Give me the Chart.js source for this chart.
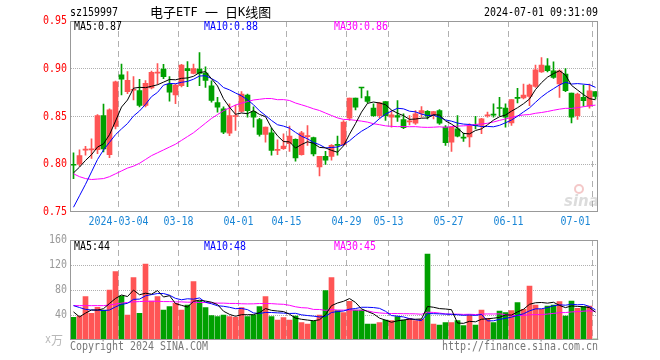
<!DOCTYPE html>
<html><head><meta charset="utf-8">
<script src="https://cdn.jsdelivr.net/npm/chart.js@4"></script>
<style>
html,body{margin:0;padding:0;background:#fff;}
#wrap{position:relative;width:660px;height:360px;overflow:hidden;}
canvas{position:absolute;left:0;}
</style></head><body>
<div id="wrap">
<canvas id="k" width="660" height="232" style="top:0"></canvas>
<canvas id="v" width="660" height="128" style="top:232px"></canvas>
</div>
<script>
// ---------- data ----------
const code = 'sz159997';
const title = '电子ETF 一 日K线图';
const stamp = '2024-07-01 09:31:09';
const dates = ['02-21','02-22','02-23','02-26','02-27','02-28','02-29','03-01',
'03-04','03-05','03-06','03-07','03-08','03-11','03-12','03-13','03-14','03-15','03-18','03-19','03-20','03-21','03-22','03-25','03-26','03-27','03-28','03-29',
'04-01','04-02','04-03','04-08','04-09','04-10','04-11','04-12','04-15','04-16','04-17','04-18','04-19','04-22','04-23','04-24','04-25','04-26','04-29','04-30',
'05-06','05-07','05-08','05-09','05-10','05-13','05-14','05-15','05-16','05-17','05-20','05-21','05-22','05-23','05-24','05-27','05-28','05-29','05-30','05-31',
'06-03','06-04','06-05','06-06','06-07','06-11','06-12','06-13','06-14','06-17','06-18','06-19','06-20','06-21','06-24','06-25','06-26','06-27','06-28',
'07-01'];
const xTickLabels = ['2024-03-04','03-18','04-01','04-15','04-29','05-13','05-27','06-11','07-01'];
const priceTicks = [0.75, 0.80, 0.85, 0.90, 0.95];
const volumeTicks = [0, 40, 80, 120, 160];

const opens = [0.800,0.800,0.8148,0.8150,0.8153,0.851,0.810,0.8396,0.8937,0.876,
0.8775,0.8771,0.8615,0.8799,0.8955,0.8997,0.884,0.8726,0.8823,0.9003,
0.8951,0.8996,0.8955,0.8822,0.8645,0.858,0.8325,0.8500,0.8552,0.8725,
0.8552,0.8468,0.8312,0.833,0.8145,0.8163,0.8215,0.826,0.810,0.8289,
0.828,0.7972,0.8083,0.8083,0.8205,0.8205,0.8482,0.8694,0.8802,0.8708,
0.8587,0.851,0.8656,0.8493,0.851,0.8468,0.8444,0.843,0.8534,0.8555,
0.852,0.8562,0.8389,0.8232,0.8371,0.8278,0.8285,0.8406,0.8406,0.8506,
0.8518,0.8587,0.8587,0.8434,0.8694,0.8694,0.8711,0.8816,0.8968,0.9031,
0.8979,0.884,0.8944,0.8746,0.851,0.8701,0.8607,0.876];
const highs = [0.812,0.815,0.8187,0.8267,0.852,0.863,0.858,0.887,0.9048,0.897,
0.8917,0.889,0.8875,0.8975,0.9055,0.9045,0.8917,0.884,0.9045,0.9075,
0.9048,0.917,0.902,0.8874,0.870,0.860,0.8632,0.862,0.876,0.8735,
0.860,0.8482,0.8389,0.8378,0.8257,0.8319,0.840,0.8265,0.8344,0.8406,
0.8285,0.8083,0.8135,0.8205,0.8295,0.8458,0.8694,0.8694,0.8805,0.877,
0.8632,0.8649,0.8656,0.8562,0.8666,0.8527,0.851,0.8562,0.8604,0.8562,
0.8555,0.8573,0.8406,0.8389,0.851,0.8326,0.8423,0.8503,0.8482,0.8545,
0.8632,0.870,0.8632,0.8677,0.8795,0.884,0.884,0.9038,0.9118,0.9107,
0.9072,0.8989,0.9003,0.8746,0.8746,0.883,0.884,0.876];
const lows = [0.785,0.798,0.8094,0.806,0.811,0.813,0.807,0.837,0.8725,0.874,
0.8674,0.860,0.860,0.879,0.8835,0.8895,0.866,0.8635,0.881,0.8812,
0.8945,0.8823,0.8805,0.8649,0.8545,0.832,0.830,0.8354,0.8545,0.8493,
0.8389,0.8295,0.8232,0.8094,0.810,0.8156,0.8135,0.8031,0.8094,0.8198,
0.8087,0.7878,0.7997,0.8042,0.8094,0.8198,0.8458,0.8569,0.8694,0.8642,
0.850,0.8482,0.8458,0.8389,0.8448,0.8372,0.8413,0.8417,0.8493,0.8475,
0.8475,0.8417,0.8198,0.8135,0.8285,0.824,0.8181,0.837,0.8319,0.8493,
0.8493,0.851,0.8389,0.8406,0.8642,0.8684,0.8614,0.8805,0.8961,0.8968,
0.8899,0.8701,0.876,0.8434,0.8469,0.8607,0.8586,0.8684];
const closes = [0.799,0.809,0.8153,0.8156,0.851,0.816,0.857,0.8864,0.889,0.888,
0.8778,0.8615,0.8847,0.8962,0.8958,0.8917,0.8754,0.8830,0.9038,0.8979,
0.9003,0.8951,0.8878,0.8668,0.8597,0.8335,0.851,0.8505,0.8736,0.8562,
0.8493,0.8312,0.8389,0.8146,0.8150,0.8191,0.8295,0.8066,0.833,0.8295,
0.8108,0.8083,0.8042,0.8198,0.8198,0.8441,0.8694,0.8597,0.8798,0.8659,
0.851,0.8642,0.851,0.8517,0.8493,0.8382,0.8448,0.8527,0.8562,0.8503,
0.8552,0.843,0.8226,0.8389,0.8295,0.8274,0.8406,0.8403,0.8475,0.851,
0.8515,0.8584,0.8493,0.8677,0.869,0.8725,0.8829,0.8989,0.9038,0.8979,
0.8909,0.8979,0.877,0.8493,0.8736,0.8666,0.877,0.8711];
// volume, 万
const volumes = [36.3,38.4,69.3,42.7,52.3,48,80,109.3,70.4,40,
99.7,42.7,121.6,62.4,69.3,48,53.3,58.7,48,56,
93.3,62.4,51.7,38.9,37.3,40,37.3,36.3,51.7,37.3,
40,53.3,69.3,37.3,32,35.7,32,38.4,27.7,25.6,
30.4,40,78.9,99.7,47,44,62,48,48,25.6,
25.6,27.7,32,31,37.3,32,34.7,31,33,137.6,
25.6,24,27.7,27.7,31,22.9,40,24,48,34.7,
27.7,46.4,43.7,46.9,59.7,49,86.4,56,49,54.4,
56,61.3,38.4,62.4,50.7,53.3,54.4,1.6];

// moving-average values for days whose window starts before the shown range
const ma5Lead  = [0.791,0.797,0.804,0.810];
const ma10Lead = [0.755,0.767,0.779,0.792,0.805,0.815,0.823,0.831,0.837];
const ma30Lead = [0.790,0.787,0.785,0.784,0.7845,0.785,0.787,0.790,0.793,0.796,
0.798,0.801,0.805,0.809,0.812,0.815,0.818,0.821,0.825,0.829,
0.833,0.838,0.843,0.848,0.852,0.856,0.859,0.862,0.864];
const volMa5Lead  = [45,37,43,48];
const volMa10Lead = [55,52,49,48,48,47,48,53,57];
const volMa30Lead = [55,55,55,55,55,55,56,57.5,59,60,61,61.5,62,62,62,61.5,61.5,61,61,60.5,60.5,60,60,59.5,59,59,58.5,58.5,58];

// ---------- derived ----------
function movingAvg(src, n, lead){
  return src.map((_, i) => i < lead.length ? lead[i] : src.slice(i - n + 1, i + 1).reduce((a, b) => a + b, 0) / n);
}
const ma5 = movingAvg(closes, 5, ma5Lead);
const ma10 = movingAvg(closes, 10, ma10Lead);
const ma30 = movingAvg(closes, 30, ma30Lead);
const vma5 = movingAvg(volumes, 5, volMa5Lead);
const vma10 = movingAvg(volumes, 10, volMa10Lead);
const vma30 = movingAvg(volumes, 30, volMa30Lead);

const UP = '#ff5555', DOWN = '#00a000';
const colors = closes.map((c, i) => c >= opens[i] ? UP : DOWN);
const wicks = lows.map((l, i) => [l, highs[i]]);
const bodies = opens.map((o, i) => [o, closes[i]]);
const last = a => a[a.length - 1];
const tickIdx = new Set(xTickLabels.map(l => dates.indexOf(l.slice(-5))));
const CLEAR = 'rgba(0,0,0,0)';
const GRID = '#b0b0b0';

// ---------- text helper ----------
function drawText(ctx, s, x, y, color, align, opt){
  opt = opt || {};
  const asciiFont = '12px "DejaVu Sans Mono"';
  const cjkFont = (opt.cjk || 12) + 'px "Noto Sans CJK SC"';
  ctx.save();
  ctx.font = asciiFont;
  const sx = opt.sx !== undefined ? opt.sx : 6 / ctx.measureText('0').width;
  const runs = [];
  let cur = '', cc = null;
  for (const ch of s){
    const c = ch.charCodeAt(0) > 255;
    if (cc === null || c === cc){ cur += ch; cc = c; }
    else { runs.push([cur, cc]); cur = ch; cc = c; }
  }
  if (cur) runs.push([cur, cc]);
  let total = 0;
  const ws = runs.map(([t, c]) => { ctx.font = c ? cjkFont : asciiFont; const w = ctx.measureText(t).width * (c ? 1 : sx); total += w; return w; });
  let cx = align === 'right' ? x - total : align === 'center' ? x - total / 2 : x;
  ctx.fillStyle = color; ctx.textBaseline = 'middle'; ctx.textAlign = 'left';
  runs.forEach(([t, c], k) => {
    ctx.font = c ? cjkFont : asciiFont;
    ctx.save(); ctx.translate(cx, y); if (!c) ctx.scale(sx, 1); ctx.fillText(t, 0, 0); ctx.restore();
    cx += ws[k];
  });
  ctx.restore();
  return total;
}
function frame(ctx, a){
  ctx.save(); ctx.strokeStyle = '#999'; ctx.lineWidth = 1;
  const x0 = Math.floor(a.left) + 0.5, x1 = Math.floor(a.right) - 0.5;
  const y0 = Math.floor(a.top) + 0.5, y1 = Math.floor(a.bottom) - 0.5;
  ctx.strokeRect(x0, y0, x1 - x0, y1 - y0);
  ctx.restore();
}

function xScaleOpts(h){
  return {
    type: 'category', offset: true,
    grid: { offset: true, drawTicks: false, lineWidth: 1,
      color: c => (c.type === 'tick' && tickIdx.has(c.index)) ? GRID : CLEAR },
    border: { display: false, dash: [6, 4] },
    ticks: { display: false, autoSkip: false },
    afterFit: s => { s.height = h; }
  };
}
function yScaleOpts(min, max, step){
  return {
    min, max,
    afterBuildTicks: s => { s.ticks = (min === 0 ? volumeTicks : priceTicks).map(v => ({ value: v })); },
    ticks: { display: false, stepSize: step },
    grid: { drawTicks: false, lineWidth: 1,
      color: c => (c.tick && c.tick.value > min + step / 10 && c.tick.value < max - step / 10) ? GRID : CLEAR },
    border: { display: false, dash: [1, 1] },
    afterFit: s => { s.width = 70; }
  };
}
function lineDs(data, color){
  return { type: 'line', data, borderColor: color, borderWidth: 1, pointRadius: 0, tension: 0, fill: false, order: 0 };
}

// ---------- price chart ----------
const pricePlugin = {
  id: 'priceDecor',
  afterDraw(chart){
    const ctx = chart.ctx, a = chart.chartArea, xs = chart.scales.x, ys = chart.scales.y;
    frame(ctx, a);
    priceTicks.forEach(v => drawText(ctx, v.toFixed(2), 67, ys.getPixelForValue(v), '#ff0000', 'right'));
    const half = (xs.getPixelForValue(1) - xs.getPixelForValue(0)) / 2;
    xTickLabels.forEach(lab => {
      const i = dates.indexOf(lab.slice(-5));
      const x = xs.getPixelForValue(i) - half;
      const w = lab.length * 6;
      if (x + w / 2 > a.right - 8) drawText(ctx, lab, a.right - 8, 221.5, '#1a86d6', 'right');
      else drawText(ctx, lab, x, 221.5, '#1a86d6', 'center');
    });
    drawText(ctx, 'MA5:' + last(ma5).toFixed(2), 74, 26.5, '#000', 'left');
    drawText(ctx, 'MA10:' + last(ma10).toFixed(2), 204, 26.5, '#0000ff', 'left');
    drawText(ctx, 'MA30:' + last(ma30).toFixed(2), 334, 26.5, '#ff00ff', 'left');
    drawText(ctx, code, 70, 13, '#000', 'left');
    drawText(ctx, title, 150, 12.5, '#000', 'left', { sx: 1, cjk: 13 });
    drawText(ctx, stamp, 598, 13, '#000', 'right');
    // sina watermark
    ctx.save();
    ctx.globalAlpha = 0.35;
    ctx.strokeStyle = '#e06060'; ctx.lineWidth = 2;
    ctx.beginPath(); ctx.arc(579, 189, 4, 0, Math.PI * 2); ctx.stroke();
    ctx.fillStyle = '#9a9a9a';
    ctx.font = 'italic bold 15px "DejaVu Sans"';
    ctx.textBaseline = 'middle';
    ctx.fillText('sina', 564, 202);
    ctx.restore();
  }
};

new Chart(document.getElementById('k'), {
  type: 'bar',
  data: {
    labels: dates,
    datasets: [
      lineDs(ma5, '#000000'),
      lineDs(ma10, '#0000ff'),
      lineDs(ma30, '#ff00ff'),
      { type: 'bar', data: bodies, backgroundColor: colors, barThickness: 5, minBarLength: 1, grouped: false, order: 1 },
      { type: 'bar', data: wicks, backgroundColor: colors, barThickness: 1, grouped: false, order: 2 }
    ]
  },
  options: {
    responsive: false, animation: false, devicePixelRatio: 1,
    layout: { padding: { left: 0.5, right: 61.5, top: 21, bottom: 0 } },
    plugins: { legend: { display: false }, tooltip: { enabled: false } },
    scales: { x: xScaleOpts(20), y: yScaleOpts(0.75, 0.95, 0.05) }
  },
  plugins: [pricePlugin]
});

// ---------- volume chart ----------
const volPlugin = {
  id: 'volDecor',
  afterDraw(chart){
    const ctx = chart.ctx, a = chart.chartArea, ys = chart.scales.y;
    frame(ctx, a);
    volumeTicks.slice(1).forEach(v => drawText(ctx, String(v), 67, ys.getPixelForValue(v), '#999999', 'right'));
    drawText(ctx, 'x万', 63, 108, '#b8b8b8', 'right');
    drawText(ctx, 'MA5:' + Math.floor(last(vma5)), 74, 14.5, '#000', 'left');
    drawText(ctx, 'MA10:' + Math.floor(last(vma10)), 204, 14.5, '#0000ff', 'left');
    drawText(ctx, 'MA30:' + Math.floor(last(vma30)), 334, 14.5, '#ff00ff', 'left');
    drawText(ctx, 'Copyright 2024 SINA.COM', 70, 115, '#777777', 'left');
    drawText(ctx, 'http://finance.sina.com.cn', 598, 115, '#777777', 'right');
  }
};

new Chart(document.getElementById('v'), {
  type: 'bar',
  data: {
    labels: dates,
    datasets: [
      lineDs(vma5, '#000000'),
      lineDs(vma10, '#0000ff'),
      lineDs(vma30, '#ff00ff'),
      { type: 'bar', data: volumes, backgroundColor: colors, barThickness: 5, grouped: false, order: 1 }
    ]
  },
  options: {
    responsive: false, animation: false, devicePixelRatio: 1,
    layout: { padding: { left: 0.5, right: 61.5, top: 8, bottom: 0 } },
    plugins: { legend: { display: false }, tooltip: { enabled: false } },
    scales: { x: xScaleOpts(20), y: yScaleOpts(0, 160, 40) }
  },
  plugins: [volPlugin]
});
</script>
</body></html>
